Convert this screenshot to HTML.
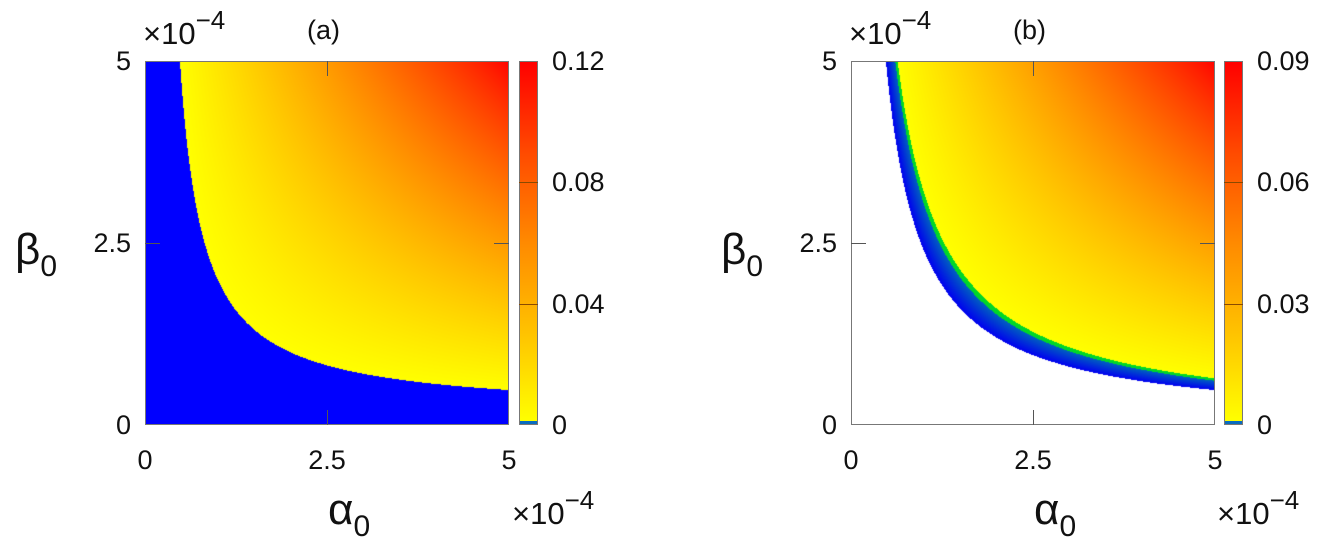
<!DOCTYPE html>
<html><head><meta charset="utf-8"><style>
body{margin:0;background:#fff;width:1321px;height:539px;position:relative;overflow:hidden;font-family:"Liberation Sans",sans-serif;color:#111}
.t{position:absolute;font-size:25px;line-height:1;white-space:nowrap}
canvas{position:absolute}
</style></head><body>
<div id="root"></div>
<script>
// colorbar ticks
const cbTicksA=["0","0.04","0.08","0.12"];
const cbTicksB=["0","0.03","0.06","0.09"];
const axisTicks=["0","2.5","5"];
const axisVals=[0,2.5,5];
// boundary parameters (β = a + c/(α-a))
const boundA=[0.164,1.53];
const boundB=[0.0,2.4,3.2];
const panels=[
 {id:'a',x0:145,cbx:519,label:'(a)',cbTicks:cbTicksA,type:'a'},
 {id:'b',x0:851,cbx:1224,label:'(b)',cbTicks:cbTicksB,type:'b'}
];
const Y0=61,W=364,H=364;
function cmap(t){t=Math.max(0,Math.min(1,t));return [255,Math.round(255*Math.pow(1-t,0.85)),0];}
function txt(s,x,y,cls,name,extra){const d=document.createElement('div');d.className='t';d.innerHTML=s;d.style.left=x+'px';d.style.top=y+'px';if(extra)Object.assign(d.style,extra);


document.body.appendChild(d);return d;}
panels.forEach(p=>{
 const cv=document.createElement('canvas');cv.width=W;cv.height=H;cv.style.left=p.x0+'px';cv.style.top=Y0+'px';
 
 
 document.body.appendChild(cv);
 const ctx=cv.getContext('2d');const img=ctx.createImageData(W,H);
 for(let j=0;j<H;j++)for(let i=0;i<W;i++){
  const al=(i+0.5)/W*5,be=(H-j-0.5)/H*5;let c;
  if(p.type==='a'){const a=boundA[0],cc=boundA[1];const q=(al-a)*(be-a);
   if(al<=a||be<=a||q<cc) c=[0,0,255]; else{const g=(q-cc)/((5-a)*(5-a)-cc);c=cmap(g);}}
  else{const a=boundB[0],c1=boundB[1],c2=boundB[2];const q=(al-a)*(be-a);
   if(al<=a||be<=a||q<c1) c=[255,255,255];
   else if(q<c2){const s=(q-c1)/(c2-c1);c=s<0.8?[0,Math.round(120*s),Math.round(240-60*s)]:[0,215,40];}
   else{const g=(q-c2)/((5-a)*(5-a)-c2);c=cmap(g);}}
  const k=(j*W+i)*4;img.data[k]=c[0];img.data[k+1]=c[1];img.data[k+2]=c[2];img.data[k+3]=255;}
 ctx.putImageData(img,0,0);
 const fr=document.createElement('div');Object.assign(fr.style,{position:'absolute',left:p.x0+'px',top:Y0+'px',width:W+'px',height:H+'px',border:'1px solid #777',boxSizing:'border-box'});
 
 
 document.body.appendChild(fr);
 axisVals.forEach((v,k)=>{
  const x=p.x0+v/5*W, y=Y0+H-v/5*H;
  txt(axisTicks[k],x,447,'','x-tick-'+p.id+'-'+k,{transform:'translateX(-50%)',fontSize:'27px'});
  txt(axisTicks[k],p.x0-14,y-13,'','y-tick-'+p.id+'-'+k,{transform:'translateX(-100%)',fontSize:'27px'});
  if(v===2.5){[[x-0.5,Y0+H-15,1,15],[x-0.5,Y0,1,15],[p.x0,y-0.5,15,1],[p.x0+W-15,y-0.5,15,1]].forEach((r,m)=>{const t=document.createElement('div');Object.assign(t.style,{position:'absolute',left:r[0]+'px',top:r[1]+'px',width:r[2]+'px',height:r[3]+'px',background:'#555'});
   
   
   document.body.appendChild(t);});}
 });
 const cb=document.createElement('div');
 Object.assign(cb.style,{position:'absolute',left:p.cbx+'px',top:Y0+'px',width:'19px',height:H+'px',border:'1px solid #777',boxSizing:'border-box',
  background:'linear-gradient(to top,#0a6cbf 0,#0a6cbf 3px,#ffff00 3px,#ffc300 25%,#ff8a00 50%,#ff4a00 75%,#ff0000 100%)'});
 
 
 document.body.appendChild(cb);
 p.cbTicks.forEach((s,k)=>{const y=Y0+H-k/3*H;
  txt(s,p.cbx+33,y-13,'','colorbar-tick-'+p.id+'-'+k,{fontSize:'27px'});
  if(k>0&&k<3){const t=document.createElement('div');Object.assign(t.style,{position:'absolute',left:p.cbx+'px',top:y+'px',width:'19px',height:'1px',background:'#8a4a00'});
   
   
   document.body.appendChild(t);}
 });
 txt('×10<span style="font-size:26px;position:relative;top:-15px">−4</span>',p.x0-2,18,'','y-exponent-'+p.id,{fontSize:'31px'});
 txt('×10<span style="font-size:26px;position:relative;top:-15px">−4</span>',p.cbx-7,498,'','x-exponent-'+p.id,{fontSize:'31px'});
 txt(p.label,p.x0+162,17,'','panel-label-'+p.id,{fontSize:'27px'});
 txt('β<span style="font-size:30px;position:relative;top:12px">0</span>',p.x0-130,228,'','y-axis-title-'+p.id,{fontSize:'44px'});
 txt('α<span style="font-size:30px;position:relative;top:12px">0</span>',p.x0+183,488,'','x-axis-title-'+p.id,{fontSize:'44px'});
});
</script>
</body></html>
